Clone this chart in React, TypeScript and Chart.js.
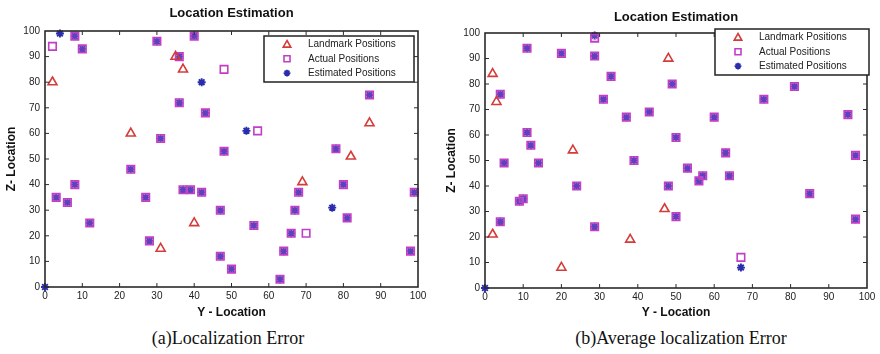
import React, { useEffect, useRef } from 'react';
import { Chart, registerables } from 'chart.js';
Chart.register(...registerables);

// ---------- Panel (a) ----------
const aLandmarkY = [2, 23, 35, 37, 40, 31, 69, 82, 87];
const aLandmarkZ = [80, 60, 90, 85, 25, 15, 41, 51, 64];
const aActualY = [2, 8, 10, 3, 6, 8, 12, 23, 27, 28, 30, 31, 36, 36, 37, 39, 40, 42, 43, 47, 47, 48, 48, 50, 56, 57, 63, 64, 66, 67, 68, 70, 78, 80, 81, 87, 98, 99];
const aActualZ = [94, 98, 93, 35, 33, 40, 25, 46, 35, 18, 96, 58, 90, 72, 38, 38, 98, 37, 68, 30, 12, 85, 53, 7, 24, 61, 3, 14, 21, 30, 37, 21, 54, 40, 27, 75, 14, 37];
const aEstY = [0, 4, 8, 10, 3, 6, 8, 12, 23, 27, 28, 30, 31, 36, 36, 37, 39, 40, 42, 42, 43, 47, 47, 48, 50, 54, 56, 63, 64, 66, 67, 68, 77, 78, 80, 81, 87, 98, 99];
const aEstZ = [0, 99, 98, 93, 35, 33, 40, 25, 46, 35, 18, 96, 58, 90, 72, 38, 38, 98, 80, 37, 68, 30, 12, 53, 7, 61, 24, 3, 14, 21, 30, 37, 31, 54, 40, 27, 75, 14, 37];

// ---------- Panel (b) ----------
const bLandmarkY = [2, 3, 2, 20, 23, 38, 47, 48];
const bLandmarkZ = [84, 73, 21, 8, 54, 19, 31, 90];
const bActualY = [4, 5, 4, 9, 10, 11, 11, 12, 14, 20, 24, 28.7, 28.7, 28.7, 31, 33, 37, 39, 43, 48, 49, 50, 50, 53, 56, 57, 60, 63, 64, 67, 73, 81, 85, 95, 97, 97];
const bActualZ = [76, 49, 26, 34, 35, 94, 61, 56, 49, 92, 40, 98, 91, 24, 74, 83, 67, 50, 69, 40, 80, 59, 28, 47, 42, 44, 67, 53, 44, 12, 74, 79, 37, 68, 52, 27];
const bEstY = [0, 4, 5, 4, 9, 10, 11, 11, 12, 14, 20, 24, 28.7, 28.7, 28.7, 31, 33, 37, 39, 43, 48, 49, 50, 50, 53, 56, 57, 60, 63, 64, 67, 73, 81, 85, 95, 97, 97];
const bEstZ = [0, 76, 49, 26, 34, 35, 94, 61, 56, 49, 92, 40, 99, 91, 24, 74, 83, 67, 50, 69, 40, 80, 59, 28, 47, 42, 44, 67, 53, 44, 8, 74, 79, 37, 68, 52, 27];

const xTicks = [0, 10, 20, 30, 40, 50, 60, 70, 80, 90, 100];
const yTicks = [0, 10, 20, 30, 40, 50, 60, 70, 80, 90, 100];
const legendLabels = ['Landmark Positions', 'Actual Positions', 'Estimated Positions'];
const chartTitle = 'Location Estimation';
const xTitle = 'Y - Location';
const yTitle = 'Z- Location';

const RED = '#d43c3a';
const MAG = '#c23ec6';
const BLUE = '#2a2cae';
const SANS = "'Liberation Sans', Arial, sans-serif";

const toPts = (xs: number[], ys: number[]) => xs.map((x, i) => ({ x, y: ys[i] }));

function drawMarker(ctx: CanvasRenderingContext2D, style: string, x: number, y: number) {
  ctx.save();
  ctx.beginPath();
  if (style === 'tri') {
    ctx.strokeStyle = RED; ctx.lineWidth = 1.6;
    ctx.moveTo(x, y - 4); ctx.lineTo(x + 3.8, y + 2.6); ctx.lineTo(x - 3.8, y + 2.6); ctx.closePath();
    ctx.stroke();
  } else if (style === 'sq') {
    ctx.strokeStyle = MAG; ctx.lineWidth = 1.6;
    ctx.rect(x - 3, y - 3, 6, 6);
    ctx.stroke();
  } else {
    ctx.strokeStyle = BLUE; ctx.lineWidth = 1.8;
    const r = 3.4;
    ctx.moveTo(x - r, y); ctx.lineTo(x + r, y);
    ctx.moveTo(x, y - r); ctx.lineTo(x, y + r);
    const d = r * 0.7;
    ctx.moveTo(x - d, y - d); ctx.lineTo(x + d, y + d);
    ctx.moveTo(x - d, y + d); ctx.lineTo(x + d, y - d);
    ctx.stroke();
  }
  ctx.restore();
}

function makeFramePlugin(legendBox: { dr: number; dt: number; w: number; h: number }) {
  return {
    id: 'frameLegend',
    afterDraw(chart: any) {
      const { ctx, chartArea: a, scales } = chart;
      ctx.save();
      ctx.strokeStyle = '#2a2a2a';
      ctx.lineWidth = 1.6;
      ctx.strokeRect(a.left, a.top, a.right - a.left, a.bottom - a.top);
      ctx.lineWidth = 1;
      ctx.beginPath();
      xTicks.slice(1, -1).forEach((t) => {
        const px = scales.x.getPixelForValue(t);
        ctx.moveTo(px, a.bottom); ctx.lineTo(px, a.bottom - 4);
        ctx.moveTo(px, a.top); ctx.lineTo(px, a.top + 4);
      });
      yTicks.slice(1, -1).forEach((t) => {
        const py = scales.y.getPixelForValue(t);
        ctx.moveTo(a.left, py); ctx.lineTo(a.left + 4, py);
        ctx.moveTo(a.right, py); ctx.lineTo(a.right - 4, py);
      });
      ctx.stroke();
      // legend
      const bx = a.right + legendBox.dr - legendBox.w;
      const by = a.top + legendBox.dt;
      ctx.fillStyle = '#fff';
      ctx.fillRect(bx, by, legendBox.w, legendBox.h);
      ctx.strokeStyle = '#222';
      ctx.lineWidth = 1.5;
      ctx.strokeRect(bx, by, legendBox.w, legendBox.h);
      const styles = ['tri', 'sq', 'star'];
      ctx.font = `10px ${SANS}`;
      ctx.fillStyle = '#222';
      ctx.textBaseline = 'middle';
      ctx.textAlign = 'left';
      legendLabels.forEach((lab, i) => {
        const ly = by + 8.5 + i * 14.3;
        drawMarker(ctx, styles[i], bx + 23, ly);
        ctx.fillText(lab, bx + 44, ly);
      });
      ctx.restore();
    },
  };
}

function makeConfig(lY: number[], lZ: number[], aY: number[], aZ: number[], eY: number[], eZ: number[], padRight: number, titleTop: number, xHeight: number, legendBox: any) {
  // actual squares that coincide with an estimate look filled (star inside); lone squares stay hollow
  const sqFill = aY.map((y, i) => (eY.some((ey, j) => ey === y && Math.abs(eZ[j] - aZ[i]) <= 1) ? 'rgba(190,110,215,0.35)' : 'rgba(255,255,255,0)'));
  return {
    type: 'scatter' as const,
    data: {
      datasets: [
        { label: legendLabels[0], data: toPts(lY, lZ), pointStyle: 'triangle', radius: 5.2, borderWidth: 1.6, borderColor: RED, backgroundColor: 'rgba(0,0,0,0)', clip: false },
        { label: legendLabels[1], data: toPts(aY, aZ), pointStyle: 'rect', radius: 5.3, borderWidth: 1.6, borderColor: MAG, backgroundColor: sqFill, clip: false },
        { label: legendLabels[2], data: toPts(eY, eZ), pointStyle: 'star', radius: 4, borderWidth: 1.9, borderColor: BLUE, backgroundColor: BLUE, clip: false },
      ],
    },
    options: {
      animation: false,
      responsive: false,
      layout: { padding: { left: 0, right: padRight, top: 0, bottom: 0 } },
      plugins: {
        legend: { display: false },
        tooltip: { enabled: false },
        title: {
          display: true, text: chartTitle, fullSize: false, color: '#111',
          font: { family: SANS, size: 13, weight: 'bold' },
          padding: { top: titleTop, bottom: 31 - titleTop - 15.6 + (titleTop > 8 ? 2 : 0) },
        },
      },
      scales: {
        x: {
          type: 'linear', min: 0, max: 100,
          afterBuildTicks: (s: any) => { s.ticks = xTicks.map((v) => ({ value: v })); },
          ticks: { color: '#222', font: { family: SANS, size: 10 }, padding: 3, maxRotation: 0, autoSkip: false },
          grid: { display: false, drawTicks: false },
          border: { display: false },
          title: { display: true, text: xTitle, color: '#111', font: { family: SANS, size: 12, weight: 'bold' }, padding: { top: 0, bottom: 5 } },
          afterFit: (s: any) => { s.height = xHeight; },
        },
        y: {
          type: 'linear', min: 0, max: 100,
          afterBuildTicks: (s: any) => { s.ticks = yTicks.map((v) => ({ value: v })); },
          ticks: { color: '#222', font: { family: SANS, size: 10 }, padding: 5, autoSkip: false },
          grid: { display: false, drawTicks: false },
          border: { display: false },
          title: { display: true, text: yTitle, color: '#111', font: { family: SANS, size: 12, weight: 'bold' }, padding: { top: 4, bottom: 0 } },
          afterFit: (s: any) => { s.width = 45; },
        },
      },
    },
    plugins: [makeFramePlugin(legendBox)],
  };
}

function Panel(props: { left: number; config: any }) {
  const ref = useRef<HTMLCanvasElement | null>(null);
  useEffect(() => {
    if (!ref.current) return;
    const ch = new Chart(ref.current, props.config);
    return () => ch.destroy();
  }, []);
  return (
    <canvas ref={ref} width={440} height={325} style={{ position: 'absolute', left: props.left, top: 0, width: 440, height: 325 }} />
  );
}

export default function App() {
  const cfgA = makeConfig(aLandmarkY, aLandmarkZ, aActualY, aActualZ, aEstY, aEstZ, 22, 6, 38, { dr: -4, dt: 5, w: 150, h: 46 });
  const cfgB = makeConfig(bLandmarkY, bLandmarkZ, bActualY, bActualZ, bEstY, bEstZ, 13, 10, 37, { dr: 2, dt: -4, w: 154, h: 46 });
  const cap: React.CSSProperties = { position: 'absolute', top: 328, fontFamily: "'Liberation Serif', 'Times New Roman', serif", fontSize: 18, lineHeight: '20px', color: '#111', whiteSpace: 'nowrap', transform: 'translateX(-50%)' };
  return (
    <div style={{ position: 'fixed', left: 0, top: 0, width: 880, height: 354, background: '#fff', overflow: 'hidden' }}>
      <Panel left={0} config={cfgA} />
      <Panel left={440} config={cfgB} />
      <div style={{ ...cap, left: 228 }}>(a)Localization Error</div>
      <div style={{ ...cap, left: 681 }}>(b)Average localization Error</div>
    </div>
  );
}
